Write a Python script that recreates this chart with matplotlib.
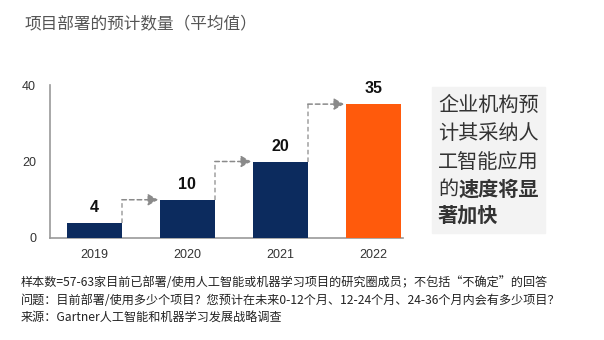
import numpy as np
import matplotlib
matplotlib.use("Agg")
import matplotlib.pyplot as plt
from matplotlib.patches import Rectangle

plt.rcParams['font.family'] = ['Noto Sans CJK SC', 'DejaVu Sans']

years = ['2019', '2020', '2021', '2022']
values = [4, 10, 20, 35]
bar_colors = ['#0c2b5e', '#0c2b5e', '#0c2b5e', '#ff5a0c']

title = '项目部署的预计数量（平均值）'
side_lines = ['企业机构预', '计其采纳人', '工智能应用']
notes = [
    '样本数=57-63家目前已部署/使用人工智能或机器学习项目的研究圈成员；不包括“不确定”的回答',
    '问题：目前部署/使用多少个项目？您预计在未来0-12个月、12-24个月、24-36个月内会有多少项目？',
    '来源：Gartner人工智能和机器学习发展战略调查',
]

W, H = 604, 340
fig = plt.figure(figsize=(W / 100, H / 100), dpi=100)
ax = fig.add_axes([50 / W, 1 - 238 / H, 353 / W, 153 / H])

x = np.arange(len(years))
w = 0.59
ax.bar(x, values, width=w, color=bar_colors, zorder=3)

for i, v in enumerate(values):
    ax.text(i, v + 2.0, str(v), ha='center', va='bottom', fontsize=11.5,
            fontweight='bold', family=['Liberation Sans', 'DejaVu Sans'],
            color='#111111')

# dashed step arrows between bars
for i in range(len(values) - 1):
    xs = i + w / 2
    ax.plot([xs, xs], [values[i], values[i + 1]], ls=(0, (3, 2)),
            color='#a0a0a0', lw=1.1, zorder=2)
    ax.annotate('', xy=(i + 1 - w / 2 - 0.02, values[i + 1]),
                xytext=(xs, values[i + 1]),
                arrowprops=dict(arrowstyle='-|>,head_length=0.6,head_width=0.35',
                                ls=(0, (3, 2)), color='#8a8a8a', lw=1.1,
                                shrinkA=0, shrinkB=0), zorder=2)

ax.set_xlim(-0.478, 3.32)
ax.set_ylim(0, 40)
ax.set_yticks([0, 20, 40])
ax.set_xticks(x)
ax.set_xticklabels(years)
ax.tick_params(length=0, labelsize=9, colors='#333333', pad=8)
ax.tick_params(axis='y', pad=10)
for lab in ax.get_xticklabels() + ax.get_yticklabels():
    lab.set_family(['Liberation Sans', 'DejaVu Sans'])
for s in ['top', 'right']:
    ax.spines[s].set_visible(False)
for s in ['left', 'bottom']:
    ax.spines[s].set_color('#999999')
    ax.spines[s].set_linewidth(1.2)

fig.text(25 / W, 1 - 24 / H, title, fontsize=12, color='#555555',
         va='center', ha='left')

# side text box
fig.patches.append(Rectangle((432 / W, 1 - 233 / H), 113 / W, 146 / H,
                             transform=fig.transFigure, color='#f3f3f3',
                             zorder=0))
fs = 14.5
tx = 438 / W
line_y = [105, 134, 162, 189, 215]
for k, line in enumerate(side_lines):
    fig.text(tx, 1 - line_y[k] / H, line, fontsize=fs, color='#333333',
             va='center', ha='left')
fig.text(tx, 1 - line_y[3] / H, '的', fontsize=fs, color='#333333',
         va='center', ha='left')
fig.text(tx + 20.5 / W, 1 - line_y[3] / H, '速度将显', fontsize=fs,
         color='#333333', va='center', ha='left', fontweight='bold')
fig.text(tx, 1 - line_y[4] / H, '著加快', fontsize=fs, color='#333333',
         va='center', ha='left', fontweight='bold')

for k, t in enumerate(notes):
    fig.text(21 / W, 1 - (283 + 17 * k) / H, t, fontsize=8.7, color='#222222',
             va='center', ha='left')

fig.savefig('out.png', dpi=100, facecolor='white')
